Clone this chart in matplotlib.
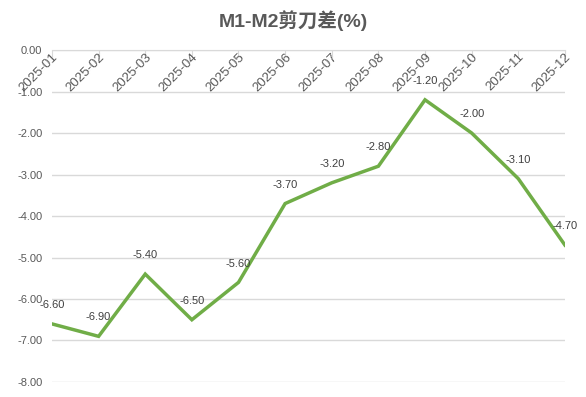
import matplotlib.pyplot as plt
import numpy as np

months = ["2025-01", "2025-02", "2025-03", "2025-04", "2025-05", "2025-06",
          "2025-07", "2025-08", "2025-09", "2025-10", "2025-11", "2025-12"]
spread = [-6.6, -6.9, -5.4, -6.5, -5.6, -3.7, -3.2, -2.8, -1.2, -2.0, -3.1, -4.7]

plt.rcParams['font.family'] = ['Liberation Sans', 'Noto Sans CJK SC', 'DejaVu Sans']

fig = plt.figure(figsize=(5.86, 3.97), dpi=100)
ax = fig.add_axes([0.0887, 0.0378, 0.8753, 0.8362])

x = np.arange(len(months))
ax.plot(x, spread, color='#70AD47', linewidth=2.5, solid_joinstyle='miter')

for xi, v in zip(x, spread):
    ax.annotate("%.2f" % v, (xi, v), xytext=(0, 10), textcoords='offset points',
                ha='center', va='bottom', fontsize=8, color='#404040')

ax.set_xlim(0, len(months) - 1)
ax.set_ylim(-8, 0)
ax.set_yticks(np.arange(-8, 0.5, 1))
ax.set_yticklabels(["%.2f" % t for t in np.arange(-8, 0.5, 1)])
ax.yaxis.grid(True, color='#D9D9D9', linewidth=1)
ax.set_axisbelow(True)

ax.xaxis.tick_top()
ax.set_xticks(x)
ax.set_xticklabels(months, rotation=45, ha='right', va='top', rotation_mode='anchor')
ax.tick_params(axis='x', direction='in', length=5, color='#D9D9D9', labelsize=9.5,
               labelcolor='#595959', pad=4, top=True, labeltop=True)
for lab in ax.get_xticklabels():
    lab.set_y(0.98)
ax.tick_params(axis='y', length=0, labelsize=8, labelcolor='#595959', pad=7)

for s in ['left', 'right', 'bottom']:
    ax.spines[s].set_visible(False)
ax.spines['top'].set_color('#D9D9D9')

fig.suptitle("M1-M2剪刀差(%)", fontsize=14, fontweight='bold', color='#595959',
             x=0.5, y=0.975)

fig.savefig("out.png", dpi=100)
